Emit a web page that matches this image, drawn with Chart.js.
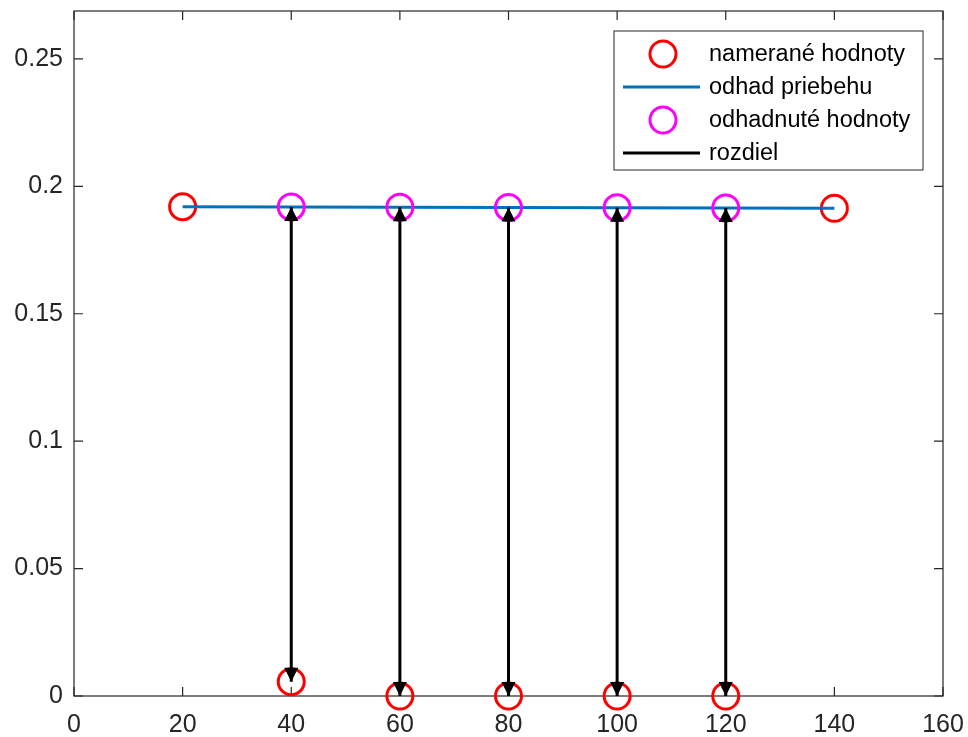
<!DOCTYPE html>
<html>
<head>
<meta charset="utf-8">
<script src="https://cdn.jsdelivr.net/npm/chart.js@4.4.1/dist/chart.umd.min.js"></script>
<style>
  html, body { margin: 0; padding: 0; background: #fff; }
</style>
</head>
<body>
<canvas id="c" width="968" height="737"></canvas>
<script>
// namerané hodnoty (measured)
const xMeasured = [20, 40, 60, 80, 100, 120, 140];
const yMeasured = [0.1920, 0.0056, 0, 0, 0, 0, 0.1914];
// odhad priebehu (fitted line)
const xFit = [20, 140];
const yFit = [0.1920, 0.1914];
// odhadnuté hodnoty (estimated)
const xEstimated = [40, 60, 80, 100, 120];
const yEstimated = [0.1919, 0.1918, 0.1917, 0.1916, 0.1915];
// rozdiel: from estimated value down to the measured one at the same x
const yDiffEnd = [0.0056, 0, 0, 0, 0];

const xTicks = [0, 20, 40, 60, 80, 100, 120, 140, 160];
const yTicks = [0, 0.05, 0.1, 0.15, 0.2, 0.25];
const yTickLabels = ["0", "0.05", "0.1", "0.15", "0.2", "0.25"];
const seriesLabels = ["namerané hodnoty", "odhad priebehu", "odhadnuté hodnoty", "rozdiel"];

const FONT = '"Liberation Sans", Arial, Helvetica, sans-serif';
const AXIS_COLOR = "#262626";

const diffData = [];
xEstimated.forEach((x, i) => {
    diffData.push({ x: x, y: yEstimated[i] });
    diffData.push({ x: x, y: yDiffEnd[i] });
    diffData.push({ x: x, y: null });
});

// frame box with inward ticks on all four sides
const frameTicks = {
    id: "frameTicks",
    beforeDatasetsDraw(chart) {
        const { ctx, chartArea: a, scales } = chart;
        const len = 9;
        ctx.save();
        ctx.strokeStyle = AXIS_COLOR;
        ctx.lineWidth = 1.2;
        ctx.strokeRect(a.left, a.top, a.right - a.left, a.bottom - a.top);
        ctx.beginPath();
        xTicks.forEach((v) => {
            const px = scales.x.getPixelForValue(v);
            ctx.moveTo(px, a.bottom); ctx.lineTo(px, a.bottom - len);
            ctx.moveTo(px, a.top); ctx.lineTo(px, a.top + len);
        });
        yTicks.forEach((v) => {
            const py = scales.y.getPixelForValue(v);
            ctx.moveTo(a.left, py); ctx.lineTo(a.left + len, py);
            ctx.moveTo(a.right, py); ctx.lineTo(a.right - len, py);
        });
        ctx.stroke();
        ctx.restore();
    },
};

// arrow heads on both ends of each "rozdiel" segment, then the boxed legend
const arrowsLegend = {
    id: "arrowsLegend",
    afterDatasetsDraw(chart) {
        const { ctx, chartArea: a, scales } = chart;
        const head = (px, tipY, dir) => {
            ctx.beginPath();
            ctx.moveTo(px, tipY);
            ctx.lineTo(px - 7, tipY - dir * 14);
            ctx.lineTo(px + 7, tipY - dir * 14);
            ctx.closePath();
            ctx.fill();
        };
        ctx.save();
        ctx.fillStyle = "#000";
        xEstimated.forEach((x, i) => {
            const px = scales.x.getPixelForValue(x);
            head(px, scales.y.getPixelForValue(yEstimated[i]), -1);
            head(px, scales.y.getPixelForValue(yDiffEnd[i]), 1);
        });
        ctx.restore();

        // legend
        const boxW = 309, boxH = 139;
        const left = a.right - 20 - boxW;
        const top = a.top + 20;
        ctx.save();
        ctx.fillStyle = "#fff";
        ctx.fillRect(left, top, boxW, boxH);
        ctx.strokeStyle = AXIS_COLOR;
        ctx.lineWidth = 1;
        ctx.strokeRect(left, top, boxW, boxH);
        ctx.font = "23.5px " + FONT;
        ctx.textBaseline = "middle";
        chart.data.datasets.forEach((ds, i) => {
            const ry = top + 23 + i * 33;
            if (ds.showLine) {
                ctx.strokeStyle = ds.borderColor;
                ctx.lineWidth = ds.borderWidth;
                ctx.beginPath();
                ctx.moveTo(left + 9, ry);
                ctx.lineTo(left + 86, ry);
                ctx.stroke();
            } else {
                ctx.strokeStyle = ds.pointBorderColor;
                ctx.lineWidth = ds.pointBorderWidth;
                ctx.beginPath();
                ctx.arc(left + 49, ry, ds.pointRadius, 0, Math.PI * 2);
                ctx.stroke();
            }
            ctx.fillStyle = "#000";
            ctx.fillText(ds.label, left + 95, ry + 1);
        });
        ctx.restore();
    },
};

const ctx = document.getElementById("c").getContext("2d");
new Chart(ctx, {
    type: "scatter",
    plugins: [frameTicks, arrowsLegend],
    data: {
        datasets: [
            {
                label: seriesLabels[0],
                data: xMeasured.map((x, i) => ({ x: x, y: yMeasured[i] })),
                showLine: false,
                pointRadius: 13,
                pointBorderWidth: 3,
                pointBorderColor: "#ff0000",
                pointBackgroundColor: "rgba(0,0,0,0)",
                borderColor: "#ff0000",
                clip: false,
                order: 3,
            },
            {
                label: seriesLabels[1],
                data: xFit.map((x, i) => ({ x: x, y: yFit[i] })),
                showLine: true,
                borderColor: "#0072BD",
                borderWidth: 3,
                pointRadius: 0,
                clip: false,
                order: 2,
            },
            {
                label: seriesLabels[2],
                data: xEstimated.map((x, i) => ({ x: x, y: yEstimated[i] })),
                showLine: false,
                pointRadius: 13,
                pointBorderWidth: 3,
                pointBorderColor: "#ff00ff",
                pointBackgroundColor: "rgba(0,0,0,0)",
                borderColor: "#ff00ff",
                clip: false,
                order: 1,
            },
            {
                label: seriesLabels[3],
                data: diffData,
                showLine: true,
                spanGaps: false,
                borderColor: "#000000",
                borderWidth: 3,
                pointRadius: 0,
                clip: false,
                order: 0,
            },
        ],
    },
    options: {
        responsive: false,
        animation: false,
        devicePixelRatio: 1,
        layout: {
            autoPadding: false,
            padding: { left: 11, right: 25, top: 11, bottom: 0 },
        },
        plugins: {
            legend: { display: false },
            tooltip: { enabled: false },
        },
        scales: {
            x: {
                type: "linear",
                min: 0,
                max: 160,
                afterBuildTicks: (scale) => {
                    scale.ticks = xTicks.map((v) => ({ value: v }));
                },
                afterFit: (scale) => {
                    scale.paddingLeft = 0;
                    scale.paddingRight = 0;
                    scale.height = 41;
                },
                grid: { display: false, drawTicks: false },
                border: { display: false },
                ticks: {
                    color: AXIS_COLOR,
                    padding: 14,
                    maxRotation: 0,
                    autoSkip: false,
                    font: { family: FONT, size: 25 },
                },
            },
            y: {
                type: "linear",
                min: 0,
                max: 0.2688,
                afterBuildTicks: (scale) => {
                    scale.ticks = yTicks.map((v) => ({ value: v }));
                },
                afterFit: (scale) => {
                    scale.paddingTop = 0;
                    scale.paddingBottom = 0;
                    scale.width = 63;
                },
                grid: { display: false, drawTicks: false },
                border: { display: false },
                ticks: {
                    color: AXIS_COLOR,
                    padding: 11,
                    autoSkip: false,
                    callback: (value, index) => yTickLabels[index],
                    font: { family: FONT, size: 25 },
                },
            },
        },
    },
});
</script>
</body>
</html>
